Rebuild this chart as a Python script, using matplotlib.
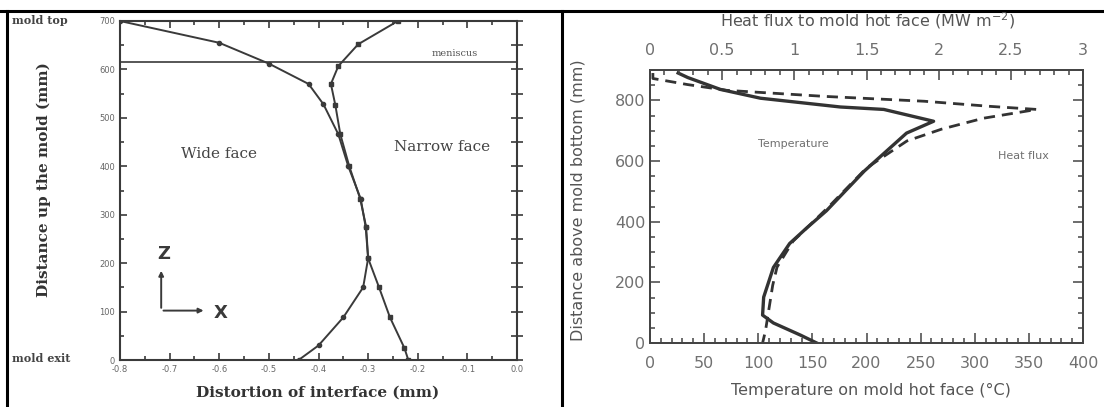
import numpy as np
import matplotlib
matplotlib.use("Agg")
import matplotlib.pyplot as plt
from matplotlib.lines import Line2D
from matplotlib.ticker import MultipleLocator, FormatStrFormatter

# Left panel: mold distortion (mm) vs distance up the mold (mm)
wide_x = [-0.80, -0.60, -0.50, -0.42, -0.39, -0.36, -0.34, -0.315, -0.305, -0.30, -0.31, -0.35, -0.40, -0.44]
wide_z = [700, 655, 612, 570, 528, 466, 400, 333, 275, 210, 150, 88, 30, 0]
narrow_x = [-0.24, -0.32, -0.36, -0.375, -0.366, -0.356, -0.338, -0.316, -0.304, -0.30, -0.278, -0.256, -0.227, -0.219]
narrow_z = [700, 652, 607, 570, 526, 466, 400, 333, 275, 210, 150, 88, 25, 0]
meniscus_z = 615

# Right panel: temperature (C) and heat flux (MW/m2) vs distance above mold bottom (mm)
temp_T = [26, 35, 65, 102, 176, 216, 262, 237, 198, 163, 145, 129, 114, 105, 104, 114, 139, 154]
temp_z = [890, 875, 836, 807, 778, 770, 731, 692, 567, 436, 380, 328, 249, 151, 92, 66, 26, 0]
flux_q = [0.02, 0.02, 0.26, 0.53, 1.21, 1.90, 2.36, 2.68, 2.31, 2.02, 1.78, 1.50, 1.24, 0.99, 0.88, 0.85, 0.82, 0.80, 0.78]
flux_z = [890, 872, 852, 833, 813, 797, 780, 770, 741, 705, 666, 577, 450, 335, 250, 190, 100, 40, 0]

W, H = 1104, 407
fig = plt.figure(figsize=(W / 100, H / 100), dpi=100)

def box(x0, y0, x1, y1):
    # pixel box (top-left origin) -> figure fraction rect
    return [x0 / W, 1 - y1 / H, (x1 - x0) / W, (y1 - y0) / H]

# frame lines of the scanned page
fig.add_artist(Line2D([0, 1], [1 - 11 / H] * 2, color="black", lw=2.2))
fig.add_artist(Line2D([7 / W] * 2, [0, 1 - 11 / H], color="black", lw=2.2))
fig.add_artist(Line2D([562 / W] * 2, [0, 1 - 11 / H], color="black", lw=2.2))

serif = "DejaVu Serif"
ink = "#3a3a3a"

# ---------- left panel ----------
ax = fig.add_axes(box(120, 21, 517, 360))
ax.plot(wide_x, wide_z, color=ink, lw=1.4, marker="o", ms=3)
ax.plot(narrow_x, narrow_z, color=ink, lw=1.4, marker="s", ms=3.5)
ax.axhline(meniscus_z, color=ink, lw=1.2)
ax.set_xlim(-0.8, 0.0)
ax.set_ylim(0, 700)
ax.xaxis.set_major_locator(MultipleLocator(0.1))
ax.xaxis.set_minor_locator(MultipleLocator(0.05))
ax.yaxis.set_major_locator(MultipleLocator(100))
ax.yaxis.set_minor_locator(MultipleLocator(50))
ax.xaxis.set_major_formatter(FormatStrFormatter("%.1f"))
ax.tick_params(which="both", direction="in", top=True, right=True,
               labelsize=6, labelcolor="#666", color=ink, width=1.2)
ax.tick_params(axis="y", which="both", right=True, direction="in")
ax.tick_params(which="major", length=5)
ax.tick_params(which="minor", length=3)
for t in ax.yaxis.get_major_ticks() + ax.yaxis.get_minor_ticks():
    t.tick2line.set_marker("_")
    t.tick2line.set_markersize(8)
for s in ax.spines.values():
    s.set_color(ink)
    s.set_linewidth(1.5)

ax.text(-0.6, 425, "Wide face", fontsize=11, family=serif, color="#444", ha="center", va="center")
ax.text(-0.15, 440, "Narrow face", fontsize=11, family=serif, color="#444", ha="center", va="center")
ax.text(-0.125, 632, "meniscus", fontsize=7, family=serif, color="#555", ha="center", va="center")
ax.annotate("", xy=(-0.717, 190), xytext=(-0.717, 102),
            arrowprops=dict(arrowstyle="-|>", color=ink, lw=1.4, mutation_scale=7))
ax.annotate("", xy=(-0.626, 102), xytext=(-0.718, 102),
            arrowprops=dict(arrowstyle="-|>", color=ink, lw=1.4, mutation_scale=7))
ax.text(-0.712, 218, "Z", fontsize=13, color=ink, ha="center", va="center", fontweight="bold")
ax.text(-0.598, 98, "X", fontsize=13, color=ink, ha="center", va="center", fontweight="bold")

fig.text(12 / W, 1 - 20 / H, "mold top", fontsize=8, family=serif, fontweight="bold",
         color="#444", ha="left", va="center")
fig.text(12 / W, 1 - 358 / H, "mold exit", fontsize=8, family=serif, fontweight="bold",
         color="#444", ha="left", va="center")
fig.text(44 / W, 1 - 180 / H, "Distance up the mold (mm)", fontsize=11, family=serif,
         fontweight="bold", color="#333", rotation=90, ha="center", va="center")
fig.text(318 / W, 1 - 393 / H, "Distortion of interface (mm)", fontsize=11, family=serif,
         fontweight="bold", color="#333", ha="center", va="center")

# ---------- right panel ----------
gray = "#707070"
ax2 = fig.add_axes(box(650, 70, 1083, 343))
ax2.plot(temp_T, temp_z, color="#333", lw=2.4)
ax2.set_xlim(0, 400)
ax2.set_ylim(0, 900)
ax2.xaxis.set_major_locator(MultipleLocator(50))
ax2.xaxis.set_minor_locator(MultipleLocator(10))
ax2.yaxis.set_major_locator(MultipleLocator(200))
ax2.yaxis.set_minor_locator(MultipleLocator(50))
ax2.tick_params(which="both", direction="in", right=True, top=False,
                labelsize=11.5, labelcolor=gray, color="#444", width=1.1)
ax2.tick_params(axis="x", which="major", pad=9)
ax2.tick_params(which="major", length=7)
ax2.tick_params(which="minor", length=3.5)

ax3 = ax2.twiny()
ax3.plot(flux_q, flux_z, color="#333", lw=2.0, ls=(0, (4, 2.5)))
ax3.set_xlim(0, 3)
ax3.xaxis.set_major_locator(MultipleLocator(0.5))
ax3.xaxis.set_minor_locator(MultipleLocator(0.1))
ax3.xaxis.set_major_formatter(plt.FuncFormatter(lambda v, p: f"{v:g}"))
ax3.tick_params(which="both", direction="in", labelsize=11.5, labelcolor=gray,
                color="#444", width=1.1, pad=9)
ax3.tick_params(which="major", length=7)
ax3.tick_params(which="minor", length=3.5)
for a in (ax2, ax3):
    for s in a.spines.values():
        s.set_color("#444")
        s.set_linewidth(1.3)

ax2.text(132, 656, "Temperature", fontsize=8, color=gray, ha="center", va="center")
ax2.text(345, 616, "Heat flux", fontsize=8, color=gray, ha="center", va="center")

fig.text(868 / W, 1 - 21 / H, "Heat flux to mold hot face (MW m$^{-2}$)", fontsize=11.5,
         color="#555", ha="center", va="center")
fig.text(871 / W, 1 - 390 / H, "Temperature on mold hot face (\u00b0C)", fontsize=11.5,
         color="#555", ha="center", va="center")
fig.text(578 / W, 1 - 200 / H, "Distance above mold bottom (mm)", fontsize=11.5,
         color="#555", rotation=90, ha="center", va="center")

fig.savefig("out.png", dpi=100)
